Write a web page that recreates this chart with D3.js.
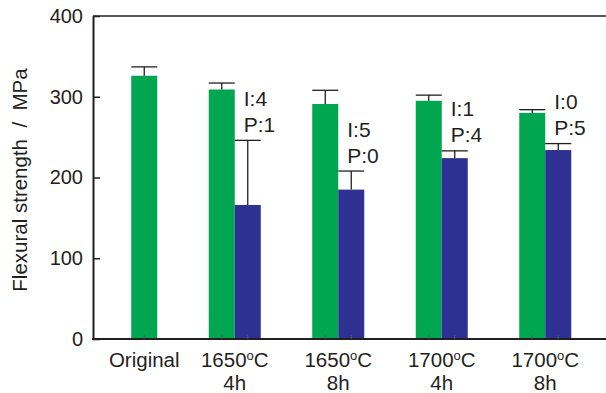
<!DOCTYPE html>
<html>
<head>
<meta charset="utf-8">
<script src="https://cdn.jsdelivr.net/npm/d3@7"></script>
<style>
  body { margin: 0; background: #fff; }
  text { font-family: "Liberation Sans", Arial, sans-serif; fill: #231f20; }
</style>
</head>
<body>
<div id="chart"></div>
<script>
// chart data
var categories = ["Original", "1650|4h", "1650|8h", "1700|4h", "1700|8h"];
var greenValues = [326, 309, 291, 295, 280];
var greenErrors = [337, 317, 308, 302, 284];
var blueValues = [null, 166, 185, 224, 234];
var blueErrors = [null, 246, 208, 233, 242];
var notesI = [null, "I:4", "I:5", "I:1", "I:0"];
var notesP = [null, "P:1", "P:0", "P:4", "P:5"];
var yTicks = [0, 100, 200, 300, 400];

var width = 606, height = 393;
var margin = { left: 93, top: 16, bottom: 54 };
var barW = 26;

var svg = d3.select("#chart").append("svg")
  .attr("width", width)
  .attr("height", height);

var x = d3.scaleBand()
  .domain(categories)
  .range([79.5, 597])
  .paddingInner(0)
  .paddingOuter(0);

var y = d3.scaleLinear()
  .domain([0, 400])
  .range([height - margin.bottom, margin.top]);

// centre of each group, the lone Original bar sits a bit to the right
function center(i) {
  var c = x(categories[i]) + x.bandwidth() / 2;
  return blueValues[i] == null ? c + 13 : c;
}

// build a list of bars
var bars = [];
categories.forEach(function (c, i) {
  if (blueValues[i] == null) {
    bars.push({ i: i, cx: center(i), v: greenValues[i], e: greenErrors[i], color: "#00a650" });
  } else {
    bars.push({ i: i, cx: center(i) - barW / 2, v: greenValues[i], e: greenErrors[i], color: "#00a650" });
    bars.push({ i: i, cx: center(i) + barW / 2, v: blueValues[i], e: blueErrors[i], color: "#2e3192" });
  }
});

svg.selectAll(".bar")
  .data(bars)
  .enter().append("rect")
  .attr("class", "bar")
  .attr("x", function (d) { return d.cx - barW / 2; })
  .attr("y", function (d) { return y(d.v); })
  .attr("width", barW)
  .attr("height", function (d) { return y(0) - y(d.v); })
  .attr("fill", function (d) { return d.color; });

// error bars (upper only)
var err = svg.selectAll(".err")
  .data(bars)
  .enter().append("g")
  .attr("class", "err")
  .attr("stroke", "#231f20")
  .attr("stroke-width", 1.3);

err.append("line")
  .attr("x1", function (d) { return d.cx; })
  .attr("x2", function (d) { return d.cx; })
  .attr("y1", function (d) { return y(d.v); })
  .attr("y2", function (d) { return y(d.e); });

err.append("line")
  .attr("x1", function (d) { return d.cx - barW / 2; })
  .attr("x2", function (d) { return d.cx + barW / 2; })
  .attr("y1", function (d) { return y(d.e); })
  .attr("y2", function (d) { return y(d.e); });

// y axis
var yAxis = svg.append("g")
  .attr("transform", "translate(" + margin.left + ",0)")
  .call(d3.axisLeft(y).tickValues(yTicks).tickSizeInner(-7).tickSizeOuter(0).tickPadding(10));
yAxis.select(".domain").attr("stroke", "#231f20").attr("stroke-width", 2);
yAxis.selectAll(".tick line").attr("stroke", "#231f20").attr("stroke-width", 1.5);
yAxis.selectAll(".tick text")
  .attr("font-size", 20)
  .attr("font-family", "Liberation Sans, Arial, sans-serif")
  .attr("fill", "#231f20");

// top frame line
svg.append("line")
  .attr("x1", margin.left).attr("x2", width)
  .attr("y1", y(400)).attr("y2", y(400))
  .attr("stroke", "#231f20").attr("stroke-width", 1.5);

// x axis baseline
svg.append("line")
  .attr("x1", margin.left - 1).attr("x2", width)
  .attr("y1", y(0)).attr("y2", y(0))
  .attr("stroke", "#231f20").attr("stroke-width", 2);

// small ticks at bar centres
svg.selectAll(".xtick")
  .data(bars)
  .enter().append("line")
  .attr("x1", function (d) { return d.cx; })
  .attr("x2", function (d) { return d.cx; })
  .attr("y1", y(0))
  .attr("y2", y(0) - 4)
  .attr("stroke", "#555")
  .attr("stroke-width", 1);

// category labels
categories.forEach(function (c, i) {
  var cx = center(i);
  if (c == "Original") {
    svg.append("text")
      .attr("x", cx).attr("y", 367)
      .attr("text-anchor", "middle")
      .attr("font-size", 20.5)
      .text(c);
  } else {
    var parts = c.split("|");
    var t = svg.append("text")
      .attr("x", cx).attr("y", 367)
      .attr("text-anchor", "middle")
      .attr("font-size", 20.5);
    t.append("tspan").text(parts[0]);
    t.append("tspan").attr("font-size", 13).attr("dy", -7).text("o");
    t.append("tspan").attr("dy", 7).text("C");
    svg.append("text")
      .attr("x", cx).attr("y", 390)
      .attr("text-anchor", "middle")
      .attr("font-size", 20.5)
      .text(parts[1]);
  }
});

// I / P notes above the blue bars
bars.filter(function (d) { return d.color == "#2e3192"; }).forEach(function (d) {
  var base = y(d.e) - 8.5;
  svg.append("text")
    .attr("x", d.cx - barW / 2 + 9).attr("y", base)
    .attr("font-size", 21)
    .text(notesP[d.i]);
  svg.append("text")
    .attr("x", d.cx - barW / 2 + 9).attr("y", base - 26)
    .attr("font-size", 21)
    .text(notesI[d.i]);
});

// y label
svg.append("text")
  .attr("transform", "translate(27," + 180 + ") rotate(-90)")
  .attr("text-anchor", "middle")
  .attr("font-size", 20.5)
  .attr("xml:space", "preserve")
  .style("white-space", "pre")
  .text("Flexural strength  /  MPa");
</script>
</body>
</html>
